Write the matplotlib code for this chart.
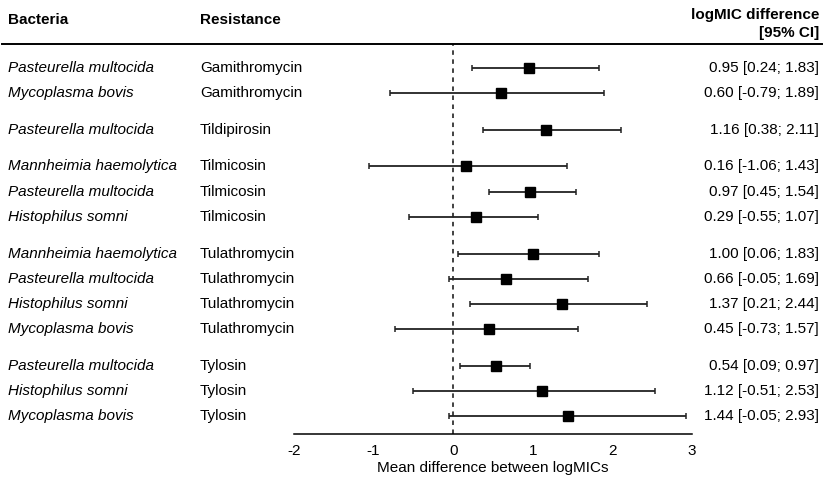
import numpy as np
import matplotlib
matplotlib.use('Agg')
import matplotlib.pyplot as plt
from matplotlib import transforms

plt.rcParams['font.family'] = ['Liberation Sans', 'DejaVu Sans']

bacteria = ['Pasteurella multocida', 'Mycoplasma bovis',
            'Pasteurella multocida',
            'Mannheimia haemolytica', 'Pasteurella multocida', 'Histophilus somni',
            'Mannheimia haemolytica', 'Pasteurella multocida', 'Histophilus somni', 'Mycoplasma bovis',
            'Pasteurella multocida', 'Histophilus somni', 'Mycoplasma bovis']
resistance = ['Gamithromycin', 'Gamithromycin',
              'Tildipirosin',
              'Tilmicosin', 'Tilmicosin', 'Tilmicosin',
              'Tulathromycin', 'Tulathromycin', 'Tulathromycin', 'Tulathromycin',
              'Tylosin', 'Tylosin', 'Tylosin']
mean_diff = [0.95, 0.60, 1.16, 0.16, 0.97, 0.29, 1.00, 0.66, 1.37, 0.45, 0.54, 1.12, 1.44]
ci_low = [0.24, -0.79, 0.38, -1.06, 0.45, -0.55, 0.06, -0.05, 0.21, -0.73, 0.09, -0.51, -0.05]
ci_high = [1.83, 1.89, 2.11, 1.43, 1.54, 1.07, 1.83, 1.69, 2.44, 1.57, 0.97, 2.53, 2.93]
xticks = [-2, -1, 0, 1, 2, 3]

# row positions, extra gap between antibiotic groups
ypos = []
y = 0.0
for i, r in enumerate(resistance):
    if i > 0 and r != resistance[i - 1]:
        y -= 0.45
    ypos.append(y)
    y -= 1.0
ypos = np.array(ypos)

FS = 11
W, H = 829, 478
fig = plt.figure(figsize=(W / 100, H / 100), dpi=100)
ax = fig.add_axes([294 / W, 1 - 434 / H, 398 / W, 390 / H])

mean_diff = np.array(mean_diff)
lo = mean_diff - np.array(ci_low)
hi = np.array(ci_high) - mean_diff
ax.errorbar(mean_diff, ypos, xerr=[lo, hi], fmt='s', color='black', ms=7.5,
            ecolor='#222222', elinewidth=1.3, capsize=2.3, capthick=1.1, zorder=3)
ax.axvline(0, color='#333333', lw=1.3, ls=(0, (2.5, 2.5)), zorder=1)

ax.set_xlim(-2, 3)
ax.set_ylim(ypos[-1] - 0.70, 0.95)
ax.set_xticks(xticks)
ax.set_xticklabels([str(t) for t in xticks])
ax.tick_params(axis='x', length=0, pad=7.5, labelsize=FS)
ax.set_yticks([])
for s in ['left', 'right', 'top']:
    ax.spines[s].set_visible(False)
ax.spines['bottom'].set_linewidth(1.1)
ax.set_xlabel('Mean difference between logMICs', fontsize=FS, labelpad=2)

tr = transforms.blended_transform_factory(fig.transFigure, ax.transData)
for yy, b, r, m, l, h in zip(ypos, bacteria, resistance, mean_diff, ci_low, ci_high):
    fig.text(8 / W, yy, b, transform=tr, fontsize=FS, style='italic', va='center')
    fig.text(200 / W, yy, r, transform=tr, fontsize=FS, va='center')
    fig.text(819 / W, yy, f'{m:.2f} [{l:.2f}; {h:.2f}]', transform=tr,
             fontsize=FS, va='center', ha='right')

# header
fig.text(8 / W, 1 - 20 / H, 'Bacteria', fontsize=FS, weight='bold', va='center')
fig.text(200 / W, 1 - 20 / H, 'Resistance', fontsize=FS, weight='bold', va='center')
fig.text(819 / W, 1 - 15 / H, 'logMIC difference', fontsize=FS, weight='bold',
         va='center', ha='right')
fig.text(819 / W, 1 - 33 / H, '[95% CI]', fontsize=FS, weight='bold',
         va='center', ha='right')
fig.add_artist(plt.Line2D([2 / W, 822 / W], [1 - 43.5 / H, 1 - 43.5 / H],
                          color='black', lw=1.4))

fig.savefig('out.png', dpi=100)
